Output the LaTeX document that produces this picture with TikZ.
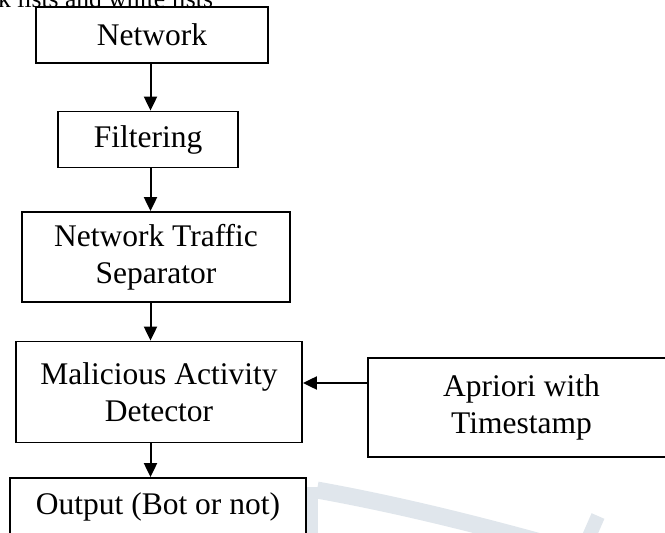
\documentclass[tikz,border=0pt]{standalone}
\usepackage{fontspec}
\setmainfont{Liberation Serif}
\usepackage{xcolor}
\usepackage{tikz}
\usetikzlibrary{arrows.meta}

\definecolor{wmark}{RGB}{224,230,236}

\begin{document}
\begin{tikzpicture}[x=1pt,y=-1pt,
	stage/.style={draw,line width=1.8pt,inner sep=0pt,align=center,
		font=\fontsize{31.5}{36.7}\selectfont},
	flow/.style={-{Triangle[length=14pt,width=13pt]},line width=2pt}]

\useasboundingbox (0,0) rectangle (665,533);
\clip (0,0) rectangle (665,533);

\draw[wmark,line width=11pt] (312,545) -- (312,487);
\draw[wmark,line width=17pt] (317,490) .. controls (400,505) and (480,525) .. (562,548);
\draw[wmark,line width=14pt] (584,548) -- (598,516);

\node[anchor=base west,inner sep=0pt,font=\fontsize{25.6}{30}\selectfont] (note) at (-2,7) {k lists and white lists};

\node[stage,minimum width=232pt,minimum height=56pt] (network) at (152,35) {Network};
\node[stage,minimum width=180pt,minimum height=56pt] (filtering) at (148,139.5) {Filtering};
\node[stage,minimum width=268pt,minimum height=90pt] (separator) at (156,257) {Network Traffic\\Separator};
\node[stage,minimum width=286pt,minimum height=101pt] (detector) at (159,392) {Malicious Activity\\Detector};
\node[stage,minimum width=296pt,minimum height=58pt] (output) at (158,507) {Output (Bot or not)};
\node[stage,minimum width=307pt,minimum height=99pt] (apriori) at (521.5,407.5) {Apriori with\\Timestamp};

\coordinate (spine) at (150.5,0);
\coordinate (tap) at (0,383);

\draw[flow] (network.south -| spine) -- (filtering.north -| spine);
\draw[flow] (filtering.south -| spine) -- (separator.north -| spine);
\draw[flow] (separator.south -| spine) -- (detector.north -| spine);
\draw[flow] (detector.south -| spine) -- (output.north -| spine);
\draw[flow] (apriori.west |- tap) -- (detector.east |- tap);

\end{tikzpicture}
\end{document}
